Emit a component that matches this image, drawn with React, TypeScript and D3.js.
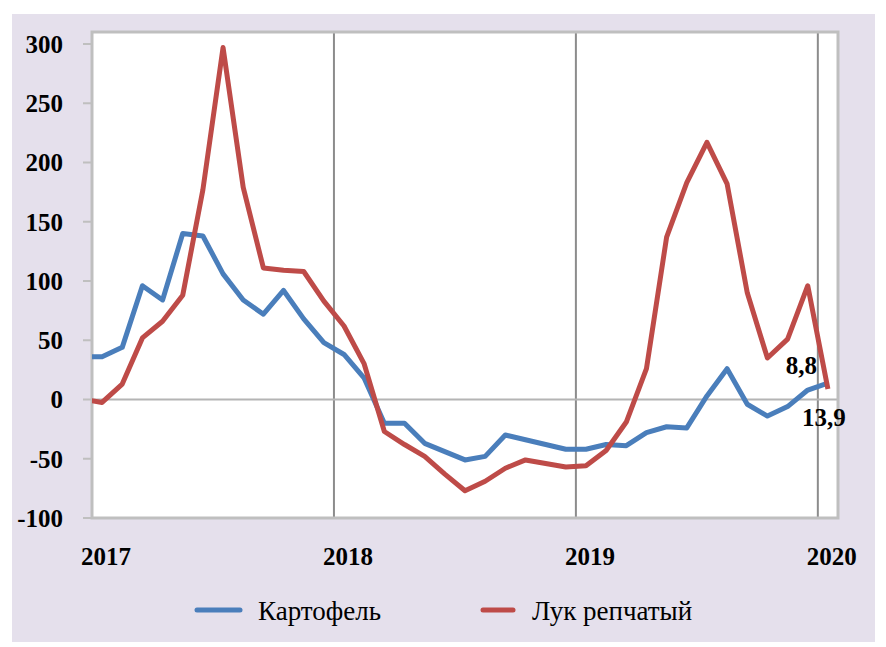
import React, { useEffect, useRef } from 'react';
import * as d3 from 'd3';

// Monthly values, Dec 2016 .. Jan 2020 (Dec 2016 is only there so the line enters from the edge)
const months = [
  '2016-12',
  '2017-01', '2017-02', '2017-03', '2017-04', '2017-05', '2017-06',
  '2017-07', '2017-08', '2017-09', '2017-10', '2017-11', '2017-12',
  '2018-01', '2018-02', '2018-03', '2018-04', '2018-05', '2018-06',
  '2018-07', '2018-08', '2018-09', '2018-10', '2018-11', '2018-12',
  '2019-01', '2019-02', '2019-03', '2019-04', '2019-05', '2019-06',
  '2019-07', '2019-08', '2019-09', '2019-10', '2019-11', '2019-12',
  '2020-01'
];

const potato = [
  36,
  36, 44, 96, 84, 140, 138, 106, 84, 72, 92, 68, 48,
  38, 18, -20, -20, -37, -44, -51, -48, -30, -34, -38, -42,
  -42, -38, -39, -28, -23, -24, 3, 26, -4, -14, -6, 8,
  13.9
];

const onion = [
  0.5,
  -2.5, 13, 52, 66, 88, 177, 297, 179, 111, 109, 108, 83,
  62, 30, -27, -38, -48, -63, -77, -69, -58, -51, -54, -57,
  -56, -43, -19, 26, 137, 183, 217, 182, 90, 35, 51, 96,
  8.8
];

const yTicks = [300, 250, 200, 150, 100, 50, 0, -50, -100];
const yearLabels = ['2017', '2018', '2019', '2020'];

const W = 886;
const H = 647;

const App = () => {
  const svgRef = useRef<SVGSVGElement>(null);

  useEffect(() => {
    const svg = d3.select(svgRef.current);
    svg.selectAll('*').remove();

    const plot = { left: 92, top: 32, right: 838, bottom: 518 };

    // one category per month, points sit in the middle of their slot
    const x = d3.scaleLinear().domain([0.5, months.length - 0.5]).range([plot.left, plot.right]);
    const y = d3.scaleLinear().domain([-100, 300]).range([plot.bottom, 44]);

    // background panel
    svg.append('rect')
      .attr('x', 12).attr('y', 14)
      .attr('width', 863).attr('height', 628)
      .attr('fill', '#e5e0ec');

    svg.append('rect')
      .attr('x', plot.left).attr('y', plot.top)
      .attr('width', plot.right - plot.left).attr('height', plot.bottom - plot.top)
      .attr('fill', '#fff');

    svg.append('clipPath').attr('id', 'plotClip')
      .append('rect')
      .attr('x', plot.left).attr('y', plot.top)
      .attr('width', plot.right - plot.left).attr('height', plot.bottom - plot.top);

    // year grid lines
    const yearIdx = yearLabels.map((_, i) => 0.5 + i * 12);
    svg.selectAll('.vgrid')
      .data(yearIdx.slice(1))
      .join('line')
      .attr('class', 'vgrid')
      .attr('x1', d => x(d)).attr('x2', d => x(d))
      .attr('y1', plot.top).attr('y2', plot.bottom)
      .attr('stroke', '#8c8c8c')
      .attr('stroke-width', 2);

    // zero line
    svg.append('line')
      .attr('x1', plot.left).attr('x2', plot.right)
      .attr('y1', y(0)).attr('y2', y(0))
      .attr('stroke', '#b4b4b4')
      .attr('stroke-width', 2);

    // plot border
    svg.append('rect')
      .attr('x', plot.left).attr('y', plot.top)
      .attr('width', plot.right - plot.left).attr('height', plot.bottom - plot.top)
      .attr('fill', 'none')
      .attr('stroke', '#bfbfbf')
      .attr('stroke-width', 3);

    // y ticks + labels
    svg.selectAll('.ytick')
      .data(yTicks)
      .join('line')
      .attr('class', 'ytick')
      .attr('x1', plot.left - 9).attr('x2', plot.left)
      .attr('y1', d => y(d)).attr('y2', d => y(d))
      .attr('stroke', '#bfbfbf')
      .attr('stroke-width', 2);

    svg.selectAll('.ylabel')
      .data(yTicks)
      .join('text')
      .attr('class', 'ylabel')
      .attr('x', 63)
      .attr('y', d => y(d))
      .attr('dy', '0.35em')
      .attr('text-anchor', 'end')
      .style('font-family', '"Liberation Serif", serif')
      .style('font-weight', 'bold')
      .style('font-size', '25px')
      .style('fill', '#000')
      .text(d => d);

    // x labels
    svg.selectAll('.xlabel')
      .data(yearLabels)
      .join('text')
      .attr('class', 'xlabel')
      .attr('x', (_, i) => x(yearIdx[i]) + 14)
      .attr('y', 565)
      .attr('text-anchor', 'middle')
      .style('font-family', '"Liberation Serif", serif')
      .style('font-weight', 'bold')
      .style('font-size', '25px')
      .style('fill', '#000')
      .text(d => d);

    const series = [
      { values: potato, color: '#4a7ebb', label: 'Картофель' },
      { values: onion, color: '#be4b48', label: 'Лук репчатый' }
    ];

    const line = d3.line<number>()
      .x((_, i) => x(i))
      .y(d => y(d));

    const lines = svg.append('g').attr('clip-path', 'url(#plotClip)');
    series.forEach(s => {
      lines.append('path')
        .datum(s.values)
        .attr('fill', 'none')
        .attr('stroke', s.color)
        .attr('stroke-width', 5)
        .attr('stroke-linejoin', 'round')
        .attr('d', line);
    });

    // end value labels
    const last = months.length - 1;
    const endLabel = (txt: string, px: number, py: number, anchor: string) =>
      svg.append('text')
        .attr('x', px).attr('y', py)
        .attr('text-anchor', anchor)
        .style('font-family', '"Liberation Serif", serif')
        .style('font-weight', 'bold')
        .style('font-size', '25px')
        .style('fill', '#000')
        .text(txt);

    endLabel('8,8', x(last) - 11, y(onion[last]) - 15, 'end');
    endLabel('13,9', x(last) - 26, y(potato[last]) + 43, 'start');

    // legend
    const legend = [
      { ...series[0], x1: 197, x2: 240, tx: 258 },
      { ...series[1], x1: 483, x2: 513, tx: 532 }
    ];
    legend.forEach(l => {
      svg.append('line')
        .attr('x1', l.x1).attr('x2', l.x2)
        .attr('y1', 610).attr('y2', 610)
        .attr('stroke', l.color)
        .attr('stroke-width', 5)
        .attr('stroke-linecap', 'round');
      svg.append('text')
        .attr('x', l.tx).attr('y', 620)
        .style('font-family', '"Liberation Serif", serif')
        .style('font-size', '27px')
        .style('fill', '#000')
        .text(l.label);
    });
  }, []);

  return (
    <svg
      ref={svgRef}
      width={W}
      height={H}
      style={{ position: 'absolute', left: 0, top: 0, display: 'block' }}
    />
  );
};

export default App;
